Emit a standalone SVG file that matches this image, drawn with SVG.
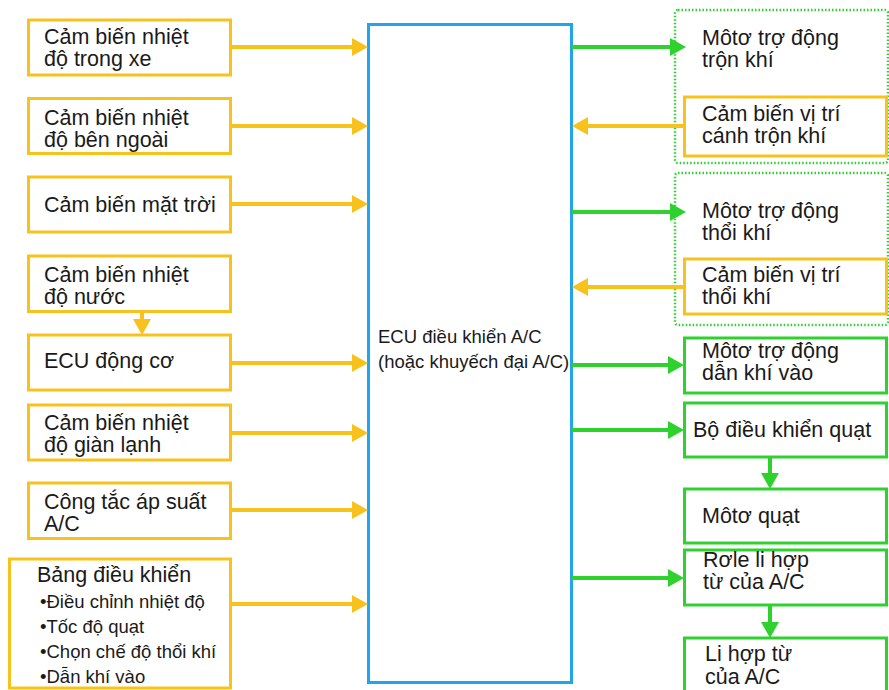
<svg xmlns="http://www.w3.org/2000/svg" width="889" height="690" viewBox="0 0 889 690">
<defs>
<style>
text{font-family:"Liberation Sans",Arial,sans-serif;fill:#1a1a1a;}
.t{font-size:21.5px;}
.s{font-size:18.5px;}
.c{font-size:18.5px;}
.yb{fill:#fff;stroke:#F8C21C;stroke-width:3;}
.gb{fill:#fff;stroke:#2ED12E;stroke-width:3;}
.db{fill:none;stroke:#2ED12E;stroke-width:2.5;stroke-dasharray:1.5 2;}
.ecu{fill:#fff;stroke:#1EA5EC;stroke-width:3;}
.yl{stroke:#F8C21C;stroke-width:4;fill:none;}
.gl{stroke:#2ED12E;stroke-width:4;fill:none;}
</style>
<marker id="ya" markerUnits="userSpaceOnUse" viewBox="0 0 16 18" markerWidth="16" markerHeight="18" refX="6" refY="9" orient="auto">
<path d="M0,0 L16,9 L0,18 z" fill="#F8C21C"/>
</marker>
<marker id="ga" markerUnits="userSpaceOnUse" viewBox="0 0 16 18" markerWidth="16" markerHeight="18" refX="6" refY="9" orient="auto">
<path d="M0,0 L16,9 L0,18 z" fill="#2ED12E"/>
</marker>
</defs>
<rect width="889" height="690" fill="#fff"/>

<g id="ecu">
<rect class="ecu" x="368.5" y="24.5" width="203" height="658"/>
<text class="c" x="378" y="343">ECU điều khiển A/C</text>
<text class="c" x="378" y="368">(hoặc khuyếch đại A/C)</text>
</g>

<g id="dotted-groups">
<rect class="db" x="675" y="10" width="213" height="153" rx="3"/>
<rect class="db" x="675" y="173" width="213" height="152" rx="3"/>
</g>

<g id="s1"><rect class="yb" x="28.5" y="20" width="202" height="55"/>
<text class="t" x="44" y="43.5">Cảm biến nhiệt</text><text class="t" x="44" y="65.5">độ trong xe</text></g>
<g id="s2"><rect class="yb" x="28.5" y="98.5" width="202" height="55"/>
<text class="t" x="44" y="124.5">Cảm biến nhiệt</text><text class="t" x="44" y="146.5">độ bên ngoài</text></g>
<g id="s3"><rect class="yb" x="28.5" y="177" width="202" height="55"/>
<text class="t" x="44" y="212">Cảm biến mặt trời</text></g>
<g id="s4"><rect class="yb" x="28.5" y="256" width="202" height="55.5"/>
<text class="t" x="44" y="281.5">Cảm biến nhiệt</text><text class="t" x="44" y="303.5">độ nước</text></g>
<g id="s5"><rect class="yb" x="28.5" y="335" width="202" height="55"/>
<text class="t" x="44" y="368">ECU động cơ</text></g>
<g id="s6"><rect class="yb" x="28.5" y="405" width="202" height="55"/>
<text class="t" x="44" y="429.5">Cảm biến nhiệt</text><text class="t" x="44" y="451.5">độ giàn lạnh</text></g>
<g id="s7"><rect class="yb" x="28.5" y="483" width="202" height="55.5"/>
<text class="t" x="44" y="508.5">Công tắc áp suất</text><text class="t" x="44" y="530.5">A/C</text></g>
<g id="s8"><rect class="yb" x="9.5" y="559" width="221" height="129"/>
<text class="t" x="37" y="582">Bảng điều khiển</text>
<text class="s" x="40" y="608">•Điều chỉnh nhiệt độ</text>
<text class="s" x="40" y="633">•Tốc độ quạt</text>
<text class="s" x="40" y="658">•Chọn chế độ thổi khí</text>
<text class="s" x="40" y="683">•Dẫn khí vào</text></g>

<g id="a1"><text class="t" x="702" y="44.5">Môtơ trợ động</text><text class="t" x="702" y="66.5">trộn khí</text></g>
<g id="a2"><rect class="yb" x="684.5" y="97" width="202" height="59"/>
<text class="t" x="702" y="120.5">Cảm biến vị trí</text><text class="t" x="702" y="142.5">cánh trộn khí</text></g>
<g id="a3"><text class="t" x="702" y="217.5">Môtơ trợ động</text><text class="t" x="702" y="239.5">thổi khí</text></g>
<g id="a4"><rect class="yb" x="684.5" y="259" width="202" height="55"/>
<text class="t" x="702" y="281.5">Cảm biến vị trí</text><text class="t" x="702" y="303.5">thổi khí</text></g>
<g id="a5"><rect class="gb" x="684.5" y="338" width="202" height="55"/>
<text class="t" x="702" y="357.5">Môtơ trợ động</text><text class="t" x="702" y="380">dẫn khí vào</text></g>
<g id="a6"><rect class="gb" x="684.5" y="403" width="202" height="54"/>
<text class="t" x="693" y="437">Bộ điều khiển quạt</text></g>
<g id="a7"><rect class="gb" x="684.5" y="489" width="202" height="54"/>
<text class="t" x="702" y="523">Môtơ quạt</text></g>
<g id="a8"><rect class="gb" x="684.5" y="550" width="202" height="55"/>
<text class="t" x="703" y="566.5">Rơle li hợp</text><text class="t" x="703" y="588.5">từ của A/C</text></g>
<g id="a9"><rect class="gb" x="684.5" y="638" width="202" height="60"/>
<text class="t" x="705" y="661">Li hợp từ</text><text class="t" x="705" y="683.5">của A/C</text></g>

<g id="connectors">
<line class="yl" x1="231" y1="47" x2="358" y2="47" marker-end="url(#ya)"/>
<line class="yl" x1="231" y1="126" x2="358" y2="126" marker-end="url(#ya)"/>
<line class="yl" x1="231" y1="204" x2="358" y2="204" marker-end="url(#ya)"/>
<line class="yl" x1="231" y1="363" x2="358" y2="363" marker-end="url(#ya)"/>
<line class="yl" x1="231" y1="433" x2="358" y2="433" marker-end="url(#ya)"/>
<line class="yl" x1="231" y1="510" x2="358" y2="510" marker-end="url(#ya)"/>
<line class="yl" x1="231" y1="604" x2="358" y2="604" marker-end="url(#ya)"/>
<line class="yl" x1="142" y1="312" x2="142" y2="325" marker-end="url(#ya)"/>
<line class="yl" x1="684" y1="126" x2="582" y2="126" marker-end="url(#ya)"/>
<line class="yl" x1="684" y1="287" x2="582" y2="287" marker-end="url(#ya)"/>
<line class="gl" x1="572" y1="47" x2="676" y2="47" marker-end="url(#ga)"/>
<line class="gl" x1="572" y1="212" x2="676" y2="212" marker-end="url(#ga)"/>
<line class="gl" x1="572" y1="365" x2="674" y2="365" marker-end="url(#ga)"/>
<line class="gl" x1="572" y1="430" x2="674" y2="430" marker-end="url(#ga)"/>
<line class="gl" x1="572" y1="578" x2="674" y2="578" marker-end="url(#ga)"/>
<line class="gl" x1="770" y1="457" x2="770" y2="479" marker-end="url(#ga)"/>
<line class="gl" x1="770" y1="605" x2="770" y2="628" marker-end="url(#ga)"/>
</g>
</svg>
